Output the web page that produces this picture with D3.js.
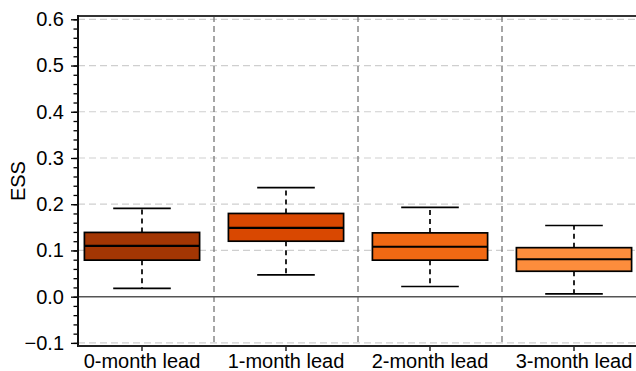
<!DOCTYPE html>
<html>
<head>
<meta charset="utf-8">
<script src="https://cdn.jsdelivr.net/npm/d3@7"></script>
<style>
  body { margin: 0; background: #fff; }
  svg { display: block; font-family: "Liberation Sans", Arial, sans-serif; }
</style>
</head>
<body>
<svg id="chart" width="636" height="371"></svg>
<script>
// box plot stats
const leads = ["0-month lead", "1-month lead", "2-month lead", "3-month lead"];
const whiskerLow = [0.018, 0.047, 0.022, 0.006];
const q1 = [0.079, 0.120, 0.079, 0.055];
const median = [0.110, 0.149, 0.108, 0.081];
const q3 = [0.139, 0.180, 0.138, 0.106];
const whiskerHigh = [0.191, 0.236, 0.193, 0.154];
const boxColors = ["#a33603", "#d94801", "#f16913", "#fd8d3c"];
const yTicks = [-0.1, 0, 0.1, 0.2, 0.3, 0.4, 0.5, 0.6];

const svg = d3.select("#chart");
const pLeft = 78, pRight = 636, pTop = 16, pBottom = 346;
const fontSize = 20;

// x bands and y scale
const x = d3.scaleBand().domain(leads).range([70, 646]).padding(0);
const y = d3.scaleLinear().domain([-0.1, 0.6]).range([342.9, 19.3]);

const boxes = leads.map((d, i) => ({
  lead: d, lo: whiskerLow[i], q1: q1[i], med: median[i], q3: q3[i], hi: whiskerHigh[i], color: boxColors[i]
}));

const plot = svg.append("g");

// horizontal dashed grid
plot.selectAll(".grid")
  .data(yTicks.filter((d) => d !== 0))
  .join("line")
  .attr("x1", pLeft).attr("x2", pRight)
  .attr("y1", (d) => y(d)).attr("y2", (d) => y(d))
  .attr("stroke", "#cfcfcf")
  .attr("stroke-width", 1.2)
  .attr("stroke-dasharray", "7,4");

// vertical separators between leads
plot.selectAll(".sep")
  .data(leads.slice(1))
  .join("line")
  .attr("x1", (d) => x(d)).attr("x2", (d) => x(d))
  .attr("y1", pTop).attr("y2", pBottom)
  .attr("stroke", "#777")
  .attr("stroke-width", 1.3)
  .attr("stroke-dasharray", "6,4");

// zero line
plot.append("line")
  .attr("x1", pLeft).attr("x2", pRight)
  .attr("y1", y(0)).attr("y2", y(0))
  .attr("stroke", "#555")
  .attr("stroke-width", 1.5);

// boxes
const bw = x.bandwidth();
const g = plot.selectAll(".box")
  .data(boxes)
  .join("g")
  .attr("transform", (d) => `translate(${x(d.lead) + bw / 2},0)`);

g.append("line") // whisker up
  .attr("y1", (d) => y(d.q3)).attr("y2", (d) => y(d.hi))
  .attr("stroke", "#000").attr("stroke-width", 1.7).attr("stroke-dasharray", "5,4");
g.append("line") // whisker down
  .attr("y1", (d) => y(d.q1)).attr("y2", (d) => y(d.lo))
  .attr("stroke", "#000").attr("stroke-width", 1.7).attr("stroke-dasharray", "5,4");
g.selectAll(".cap")
  .data((d) => [d.hi, d.lo])
  .join("line")
  .attr("x1", -bw * 0.2).attr("x2", bw * 0.2)
  .attr("y1", (v) => y(v)).attr("y2", (v) => y(v))
  .attr("stroke", "#000").attr("stroke-width", 1.7);
g.append("rect")
  .attr("x", -bw * 0.4).attr("width", bw * 0.8)
  .attr("y", (d) => y(d.q3))
  .attr("height", (d) => y(d.q1) - y(d.q3))
  .attr("fill", (d) => d.color)
  .attr("stroke", "#000").attr("stroke-width", 1.7);
g.append("line")
  .attr("x1", -bw * 0.4).attr("x2", bw * 0.4)
  .attr("y1", (d) => y(d.med)).attr("y2", (d) => y(d.med))
  .attr("stroke", "#000").attr("stroke-width", 2.2);

// top frame
svg.append("line")
  .attr("x1", pLeft).attr("x2", pRight).attr("y1", pTop).attr("y2", pTop)
  .attr("stroke", "#333").attr("stroke-width", 2);

// y axis with minor ticks
const yMinor = d3.range(-0.1, 0.6001, 0.02);
svg.append("g")
  .attr("transform", `translate(${pLeft},0)`)
  .call(d3.axisLeft(y).tickValues(yMinor).tickSize(4.5).tickFormat(""))
  .call((a) => a.select(".domain").remove())
  .selectAll("line").attr("stroke", "#000").attr("stroke-width", 1.3);
const yAxis = svg.append("g")
  .attr("transform", `translate(${pLeft},0)`)
  .call(d3.axisLeft(y).tickValues(yTicks).tickSize(7).tickPadding(7).tickFormat(d3.format(".1f")));
yAxis.select(".domain").remove();
yAxis.selectAll("line").attr("stroke", "#000").attr("stroke-width", 1.3);
yAxis.selectAll("text").attr("font-size", fontSize).attr("fill", "#000").attr("font-family", "Liberation Sans, Arial, sans-serif");
svg.append("line")
  .attr("x1", pLeft).attr("x2", pLeft).attr("y1", pTop - 1).attr("y2", pBottom + 1)
  .attr("stroke", "#111").attr("stroke-width", 2);

// x axis
const xAxis = svg.append("g")
  .attr("transform", `translate(0,${pBottom})`)
  .call(d3.axisBottom(x).tickSize(5).tickPadding(3));
xAxis.select(".domain").remove();
xAxis.selectAll("line").attr("stroke", "#000").attr("stroke-width", 1.3);
xAxis.selectAll("text").attr("font-size", fontSize).attr("fill", "#000").attr("font-family", "Liberation Sans, Arial, sans-serif");
svg.append("line")
  .attr("x1", pLeft).attr("x2", pRight).attr("y1", pBottom).attr("y2", pBottom)
  .attr("stroke", "#222").attr("stroke-width", 2);

// y label
svg.append("text")
  .attr("transform", `translate(25,${(y(0.2) + y(0.3)) / 2}) rotate(-90)`)
  .attr("text-anchor", "middle")
  .attr("font-size", fontSize)
  .text("ESS");
</script>
</body>
</html>
